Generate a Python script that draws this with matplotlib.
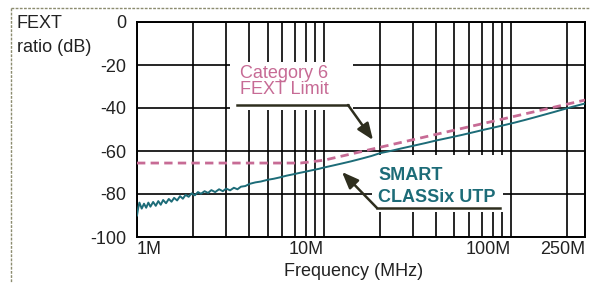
import matplotlib
matplotlib.use('Agg')
import matplotlib.pyplot as plt
from matplotlib.patches import Rectangle
from matplotlib.lines import Line2D

# SMART CLASSix UTP measured FEXT (MHz, dB)
freq_utp = [1.00, 1.015, 1.03, 1.06, 1.09, 1.12, 1.15, 1.18, 1.22, 1.26, 1.30, 1.34,
            1.38, 1.43, 1.48, 1.53, 1.58, 1.64, 1.70, 1.76, 1.82, 1.89, 1.96, 2.04,
            2.12, 2.2, 2.3, 2.4, 2.5, 2.62, 2.75, 2.88, 3.0, 3.15, 3.3, 3.45, 3.6,
            3.8, 4.0, 4.3, 4.6, 5.0, 5.4, 5.8, 6.3, 6.8, 7.4, 8.0, 8.7, 9.4, 10,
            11, 12.5, 14, 16, 18, 20, 23, 26, 30, 35, 40, 47, 55, 63, 72, 82, 93,
            105, 120, 135, 150, 170, 190, 215, 250]
fext_utp = [-90.0, -86.5, -84.0, -86.8, -84.5, -86.4, -84.0, -85.9, -83.7, -85.5, -83.3, -85.0,
            -82.8, -84.3, -82.3, -83.6, -81.8, -83.0, -81.0, -82.2, -80.4, -81.3, -79.7, -80.6,
            -79.1, -79.9, -78.7, -79.5, -78.2, -79.1, -77.8, -78.7, -77.5, -78.3, -77.1, -77.8, -76.6,
            -76.3, -75.3, -74.6, -74.2, -73.4, -72.9, -72.3, -71.5, -70.9, -70.2, -69.6, -68.9, -68.3, -67.7,
            -66.9, -65.8, -64.8, -63.5, -62.3, -61.0, -59.9, -58.8, -57.6, -56.3, -55.1, -53.8, -52.5,
            -51.3, -50.1, -49.0, -47.9, -46.8, -45.5, -44.3, -43.2, -41.9, -40.7, -39.4, -37.9]

# Category 6 FEXT limit
freq_cat6 = [1, 7.5, 10, 250]
fext_cat6 = [-65.6, -65.6, -64.3, -36.3]

y_ticks = [0, -20, -40, -60, -80, -100]
x_ticks = [1, 10, 100, 250]
x_tick_labels = ['1M', '10M', '100M', '250M']
x_grid = [2, 3, 4, 5, 6, 7, 8, 9, 20, 30, 40, 50, 60, 70, 80, 90, 200]

W, H = 590, 283
FONT = 'Liberation Sans'
FS = 13
TXT = '#222222'
PINK = '#c76b95'
TEAL = '#1d6c78'
ARROW = '#2e2e1e'


def fx(x):
    return x / W


def fy(y):
    return 1 - y / H


fig = plt.figure(figsize=(W / 100, H / 100), dpi=100)
ax = fig.add_axes([fx(137), fy(237), (585 - 137) / W, (237 - 22) / H])

ax.plot(freq_cat6, fext_cat6, color=PINK, lw=2, dashes=(3, 1.9), zorder=3)
ax.plot(freq_utp, fext_utp, color=TEAL, lw=1.4, zorder=4)

ax.set_xscale('log')
ax.set_xlim(1, 250)
ax.set_ylim(-100, 0)
ax.set_xticks(x_ticks)
ax.set_xticklabels(x_tick_labels)
ax.set_xticks(x_grid, minor=True)
ax.set_xticklabels([], minor=True)
ax.set_yticks(y_ticks)
ax.set_yticklabels([str(v) for v in y_ticks])
ax.set_axisbelow(True)
ax.grid(True, which='both', color='black', lw=1.2)
ax.tick_params(which='both', length=0, labelsize=FS, labelcolor=TXT)
ax.tick_params(axis='y', pad=8)
ax.tick_params(axis='x', pad=3)
for lab in ax.get_yticklabels() + ax.get_xticklabels():
    lab.set_fontfamily(FONT)
xl = ax.get_xticklabels()
xl[0].set_ha('left')
for lab in xl[1:]:
    lab.set_ha('right')
for s in ax.spines.values():
    s.set_linewidth(1.4)
    s.set_color('black')

# white boxes behind annotation texts
for (x0, y0, x1, y1) in [(230, 62, 353, 110), (372, 155, 503, 212)]:
    ax.add_patch(Rectangle((fx(x0), fy(y1)), fx(x1) - fx(x0), (y1 - y0) / H,
                           transform=fig.transFigure, facecolor='white',
                           edgecolor='none', zorder=1, clip_on=False))

# axis titles
fig.text(fx(17), fy(24), 'FEXT', fontsize=FS, family=FONT, color=TXT, va='center')
fig.text(fx(17), fy(48), 'ratio (dB)', fontsize=FS, family=FONT, color=TXT, va='center')
fig.text(fx(354), fy(271), 'Frequency (MHz)', fontsize=FS, family=FONT, color=TXT,
         ha='center', va='center')

# annotations
fig.text(fx(240), fy(73), 'Category 6', fontsize=FS, family=FONT, color=PINK, va='center')
fig.text(fx(240), fy(90), 'FEXT Limit', fontsize=FS, family=FONT, color=PINK, va='center')
fig.text(fx(378), fy(175), 'SMART', fontsize=FS, family=FONT, color=TEAL,
         weight='bold', va='center')
fig.text(fx(378), fy(197), 'CLASSix UTP', fontsize=FS, family=FONT, color=TEAL,
         weight='bold', va='center')

fig.add_artist(Line2D([fx(237), fx(348)], [fy(105), fy(105)], color=ARROW, lw=1.8))
fig.add_artist(Line2D([fx(377), fx(500)], [fy(208), fy(208)], color=ARROW, lw=1.8))
ax.annotate('', xy=(373, H - 140), xytext=(348, H - 105), xycoords='figure pixels',
            textcoords='figure pixels',
            arrowprops=dict(arrowstyle='-|>,head_length=1.0,head_width=0.4',
                            color=ARROW, lw=1.8, shrinkA=0, shrinkB=0))
ax.annotate('', xy=(342, H - 172), xytext=(377, H - 208), xycoords='figure pixels',
            textcoords='figure pixels',
            arrowprops=dict(arrowstyle='-|>,head_length=1.0,head_width=0.4',
                            color=ARROW, lw=1.8, shrinkA=0, shrinkB=0))

# dotted frame
fig.add_artist(Line2D([fx(11), fx(590)], [fy(8), fy(8)], color='#8c8c70', lw=1,
                      linestyle=(0, (2, 1))))
fig.add_artist(Line2D([fx(11), fx(11)], [fy(8), fy(283)], color='#8c8c70', lw=1,
                      linestyle=(0, (2, 1))))

fig.savefig('out.png', dpi=100)
